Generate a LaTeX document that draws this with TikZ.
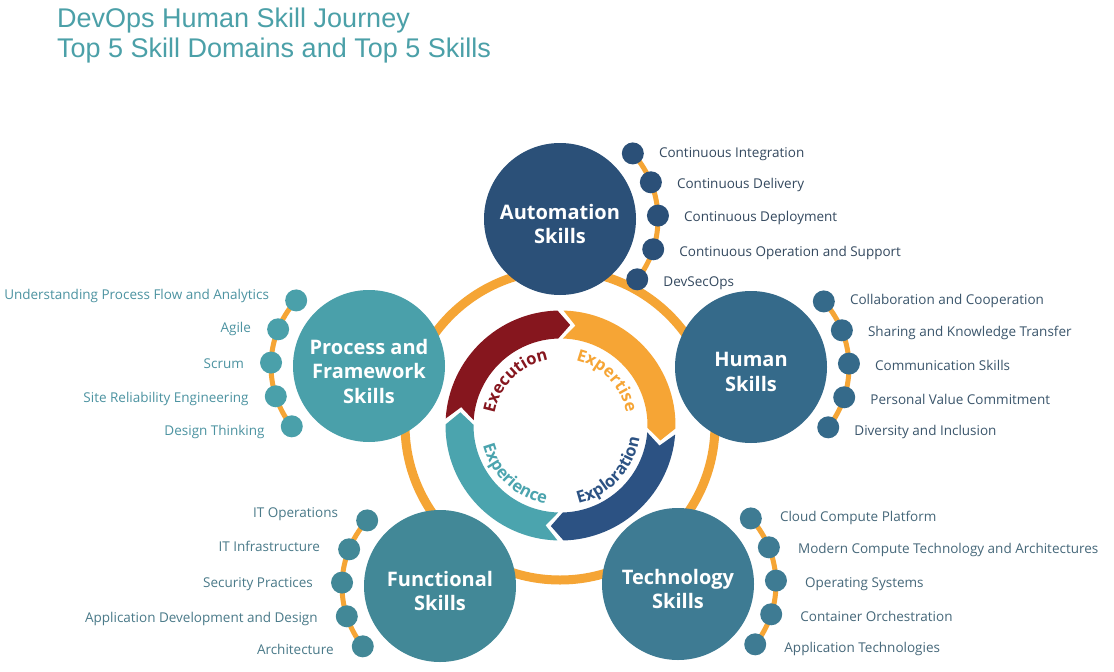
\documentclass[tikz,border=0pt]{standalone}
\usepackage{fontspec}
\setmainfont{Open Sans}
\newfontfamily\titlefont{Liberation Sans}
\usetikzlibrary{decorations.text}
\definecolor{cTitle}{HTML}{4BA0A8}
\definecolor{cRing}{HTML}{F5A535}
\definecolor{cAuto}{HTML}{2B5078}
\definecolor{cHum}{HTML}{356A8A}
\definecolor{cTech}{HTML}{3E7B93}
\definecolor{cFunc}{HTML}{428897}
\definecolor{cProc}{HTML}{4AA0AA}
\definecolor{lAuto}{HTML}{34495F}
\definecolor{lHum}{HTML}{3B566C}
\definecolor{lTech}{HTML}{46687A}
\definecolor{lFunc}{HTML}{4A7A89}
\definecolor{lProc}{HTML}{4C93A1}
\definecolor{cExe}{HTML}{86161E}
\definecolor{cExr}{HTML}{F6A535}
\definecolor{cExl}{HTML}{2C5283}
\definecolor{cExp}{HTML}{4BA4AE}
\begin{document}
\begin{tikzpicture}[x=1pt,y=-1pt,
  bigc/.style={circle, minimum size=152pt, inner sep=0pt},
  bigtxt/.style={inner sep=0pt, text=white, align=center,
    font=\fontsize{20}{24.5}\selectfont\bfseries},
  skdot/.style={circle, minimum size=22pt, inner sep=0pt},
  sklab/.style={inner sep=0pt, text height=9.7pt, text depth=0pt,
    font=\fontsize{13.5}{16}\selectfont},
  dotarc/.style={draw=cRing, line width=5pt},
  ttl/.style={anchor=base west, inner sep=0pt, text=cTitle,
    font=\titlefont\fontsize{27}{30}\selectfont}]
\useasboundingbox (0,0) rectangle (1114,672);
\fill[white] (0,0) rectangle (1114,672);

% title
\node[ttl] (t1) at (57,27.5) {DevOps Human Skill Journey};
\node[ttl] (t2) at (57,57.5) {Top 5 Skill Domains and Top 5 Skills};

% big orange ring
\coordinate (C) at (560,425);
\draw[cRing, line width=9pt] (C) circle[radius=155];

% inner cycle of arrows
\begin{scope}[shift={(560.5,425.5)}]
\foreach \s/\e/\c in {90/182/cExp,182/270/cExe,270/363/cExr,363/450/cExl}{
  \pgfmathsetmacro\sa{\s+1.5}
  \pgfmathsetmacro\ea{\e-1.5}
  \pgfmathsetmacro\tp{\e-1.5+7}
  \pgfmathsetmacro\nt{\s+1.5+7}
  \fill[\c] (\sa:115) arc[start angle=\sa, end angle=\ea, radius=115]
    -- (\tp:101) -- (\ea:87) arc[start angle=\ea, end angle=\sa, radius=87]
    -- (\nt:101) -- cycle;
}
\path[decorate, decoration={text along path, text align=center,
  text={|\fontsize{16.5}{16.5}\selectfont\bfseries\color{cExe}|Execution}}]
  (178:67) arc[start angle=178, end angle=272, radius=67];
\path[decorate, decoration={text along path, text align=center,
  text={|\fontsize{16.5}{16.5}\selectfont\bfseries\color{cExr}|Expertise}}]
  (269:67) arc[start angle=269, end angle=363, radius=67];
\path[decorate, decoration={text along path, text align=center,
  text={|\fontsize{16.5}{16.5}\selectfont\bfseries\color{cExl}|Exploration}}]
  (90:80) arc[start angle=90, end angle=-4, radius=80];
\path[decorate, decoration={text along path, text align=center,
  text={|\fontsize{16.5}{16.5}\selectfont\bfseries\color{cExp}|Experience}}]
  (180:80) arc[start angle=180, end angle=86, radius=80];
\end{scope}

% big circle coordinates
\coordinate (pA) at (560,219);
\coordinate (pH) at (751,367);
\coordinate (pT) at (678,584);
\coordinate (pF) at (440,586);
\coordinate (pP) at (369,366);

% small orange arcs carrying the skill dots
\draw[dotarc] (pA) ++(-42:98) arc[start angle=-42, end angle=38, radius=98];
\draw[dotarc] (pH) ++(-42:98) arc[start angle=-42, end angle=38, radius=98];
\draw[dotarc] (pT) ++(-42:98) arc[start angle=-42, end angle=38, radius=98];
\draw[dotarc] (pF) ++(222:98) arc[start angle=222, end angle=142, radius=98];
\draw[dotarc] (pP) ++(222:98) arc[start angle=222, end angle=142, radius=98];

% big circles
\node[bigc, fill=cAuto] (auto) at (pA) {};
\node[bigc, fill=cHum] (hum) at (pH) {};
\node[bigc, fill=cTech] (tech) at (pT) {};
\node[bigc, fill=cFunc] (func) at (pF) {};
\node[bigc, fill=cProc] (proc) at (pP) {};
\node[bigtxt] (autoT) at ([yshift=-5pt]auto.center) {Automation\\Skills};
\node[bigtxt] (humT) at ([yshift=-5pt]hum.center) {Human\\Skills};
\node[bigtxt] (techT) at ([yshift=-5pt]tech.center) {Technology\\Skills};
\node[bigtxt] (funcT) at ([yshift=-5pt]func.center) {Functional\\Skills};
\node[bigtxt] (procT) at ([yshift=-5pt]proc.center) {Process and\\Framework\\Skills};

% Automation skills
\foreach \a/\t/\ly [count=\i] in {-42/Continuous Integration/153,
  -22/Continuous Delivery/184, -2/Continuous Deployment/217,
  18/Continuous Operation and Support/252, 38/DevSecOps/282}{
  \pgfmathsetmacro\dx{560+98*cos(\a)}
  \pgfmathsetmacro\dy{219+98*sin(\a)}
  \node[skdot, fill=cAuto] (ad\i) at (\dx,\dy) {};
  \node[sklab, text=lAuto, anchor=west] (al\i) at (\dx+26,\ly) {\t};
}
% Human skills
\foreach \a/\t/\ly [count=\i] in {-42/Collaboration and Cooperation/300,
  -22/Sharing and Knowledge Transfer/332, -2/Communication Skills/366,
  18/Personal Value Commitment/400, 38/Diversity and Inclusion/431}{
  \pgfmathsetmacro\dx{751+98*cos(\a)}
  \pgfmathsetmacro\dy{367+98*sin(\a)}
  \node[skdot, fill=cHum] (hd\i) at (\dx,\dy) {};
  \node[sklab, text=lHum, anchor=west] (hl\i) at (\dx+26,\ly) {\t};
}
% Technology skills
\foreach \a/\t/\ly [count=\i] in {-42/Cloud Compute Platform/517,
  -22/Modern Compute Technology and Architectures/549, -2/Operating Systems/583,
  18/Container Orchestration/617, 38/Application Technologies/648}{
  \pgfmathsetmacro\dx{678+98*cos(\a)}
  \pgfmathsetmacro\dy{584+98*sin(\a)}
  \node[skdot, fill=cTech] (td\i) at (\dx,\dy) {};
  \node[sklab, text=lTech, anchor=west] (tl\i) at (\dx+29,\ly) {\t};
}
% Functional skills
\foreach \a/\t/\ly [count=\i] in {222/IT Operations/513,
  202/IT Infrastructure/547, 182/Security Practices/583,
  162/Application Development and Design/618, 142/Architecture/650}{
  \pgfmathsetmacro\dx{440+98*cos(\a)}
  \pgfmathsetmacro\dy{586+98*sin(\a)}
  \node[skdot, fill=cFunc] (fd\i) at (\dx,\dy) {};
  \node[sklab, text=lFunc, anchor=east] (fl\i) at (\dx-29,\ly) {\t};
}
% Process skills
\foreach \a/\t/\ly [count=\i] in {222/Understanding Process Flow and Analytics/295,
  202/Agile/328, 182/Scrum/364,
  162/Site Reliability Engineering/398, 142/Design Thinking/431}{
  \pgfmathsetmacro\dx{369+98*cos(\a)}
  \pgfmathsetmacro\dy{366+98*sin(\a)}
  \node[skdot, fill=cProc] (pd\i) at (\dx,\dy) {};
  \node[sklab, text=lProc, anchor=east] (pl\i) at (\dx-27,\ly) {\t};
}
\end{tikzpicture}
\end{document}
